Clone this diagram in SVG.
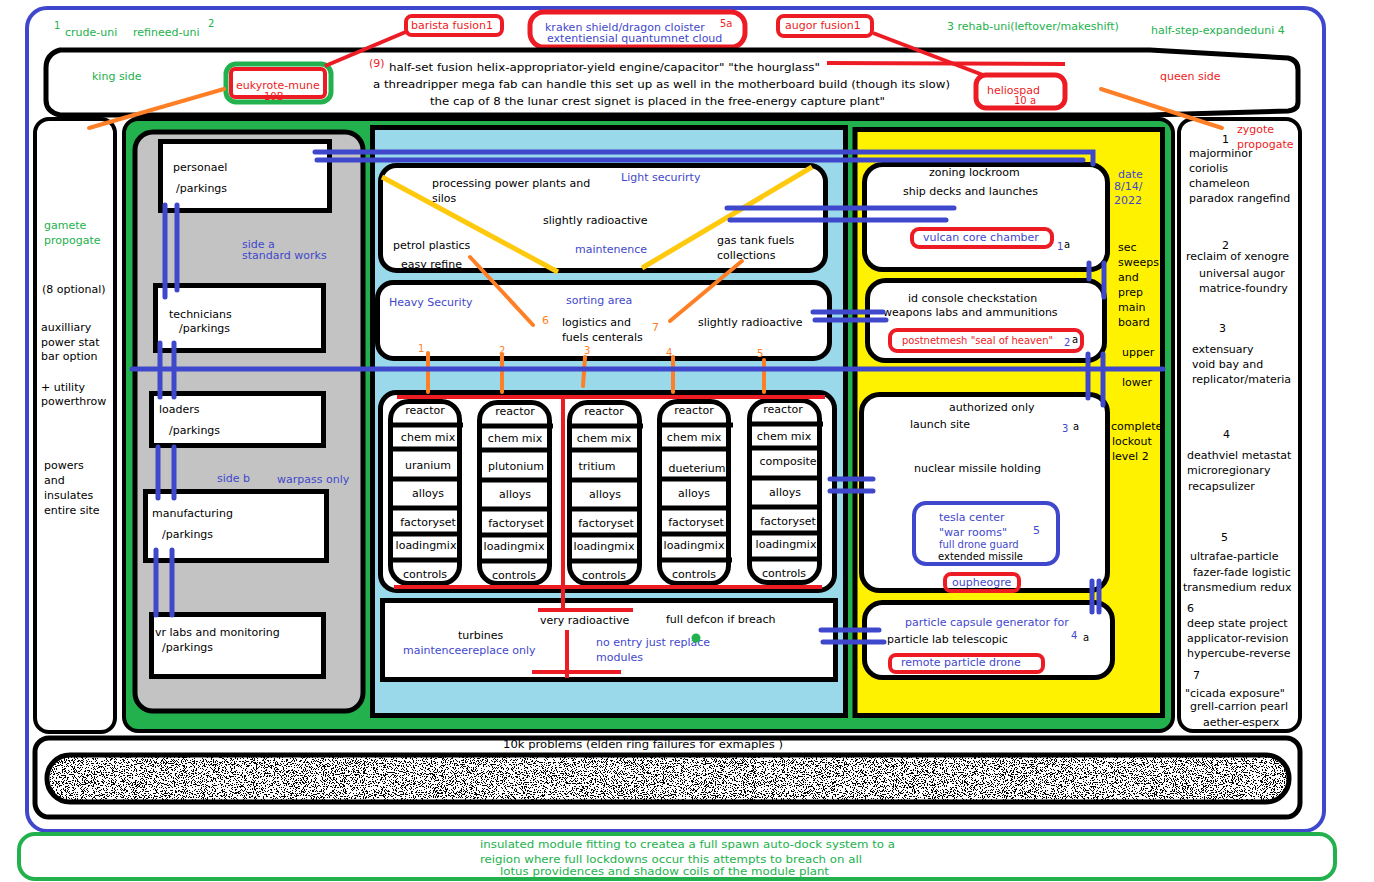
<svg xmlns="http://www.w3.org/2000/svg" width="1374" height="882" viewBox="0 0 1374 882">
<style>
text{font-family:"DejaVu Sans",Verdana,sans-serif;font-size:11px;fill:#000}
.b{fill:#3f48cc}.r{fill:#ed1c24}.g{fill:#22b14c}.o{fill:#ff7f27}
.s{font-size:10px}
.wbox{fill:#fff;stroke:#000;stroke-width:5}
.rbox{fill:none;stroke:#ed1c24;stroke-width:4}
.bl{stroke:#3f48cc;stroke-width:5;stroke-linecap:round;fill:none}
.rl{stroke:#ed1c24;stroke-width:4;fill:none}
.ol{stroke:#ff7f27;stroke-width:4;stroke-linecap:round;fill:none}
.yl{stroke:#ffc90e;stroke-width:5;fill:none}
.cap{fill:#fff;stroke:#000;stroke-width:5}
.dv{stroke:#000;stroke-width:5;fill:none}
.rc text{text-anchor:middle}
</style>
<defs>
<filter id="nz" x="0" y="0" width="100%" height="100%">
<feTurbulence type="fractalNoise" baseFrequency="0.9" numOctaves="2" seed="7" result="t"/>
<feColorMatrix in="t" type="matrix" values="0 0 0 0 0  0 0 0 0 0  0 0 0 0 0  -3 0 0 0 1.8" result="a"/>
<feComponentTransfer in="a" result="c"><feFuncA type="discrete" tableValues="0 1"/></feComponentTransfer>
<feComposite in="c" in2="SourceGraphic" operator="in" result="d"/>
<feMerge><feMergeNode in="SourceGraphic"/><feMergeNode in="d"/></feMerge>
</filter>
</defs>
<rect width="1374" height="882" fill="#fff"/>

<!-- outer frame -->
<g id="frame">
<rect x="27" y="8" width="1297" height="823" rx="20" fill="none" stroke="#3f48cc" stroke-width="4"/>
</g>

<!-- top labels -->
<g id="top-labels">
<text x="54" y="29" class="g s">1</text>
<text x="65" y="36" class="g">crude-uni</text>
<text x="133" y="36" class="g">refineed-uni</text>
<text x="208" y="27" class="g s">2</text>
<text x="947" y="30" class="g">3 rehab-uni(leftover/makeshift)</text>
<text x="1151" y="34" class="g">half-step-expandeduni 4</text>
</g>
<g id="barista">
<rect x="406" y="16" width="96" height="19" rx="6" class="rbox"/>
<text x="411" y="29" class="r">barista fusion1</text>
</g>
<g id="kraken">
<rect x="530" y="12" width="215" height="35" rx="14" fill="none" stroke="#ed1c24" stroke-width="5"/>
<text x="545" y="31" class="b">kraken shield/dragon cloister</text>
<text x="720" y="27" class="r s">5a</text>
<text x="547" y="42" class="b">extentiensial quantumnet cloud</text>
</g>
<g id="augor">
<rect x="778" y="16" width="94" height="20" rx="6" class="rbox"/>
<text x="785" y="29" class="r">augor fusion1</text>
</g>

<!-- header -->
<g id="header">
<path d="M60,50 L1150,50 L1288,58 Q1298,60 1298,70 L1298,102 Q1298,110 1288,111 L1150,115 L60,115 Q46,112 46,100 L46,68 Q46,54 60,50 Z" fill="#fff" stroke="#000" stroke-width="5"/>
<text x="92" y="80" class="g">king side</text>
<text x="1160" y="80" class="r">queen side</text>
<text x="369" y="67" class="r">(9)</text>
<text x="389" y="71" textLength="431" lengthAdjust="spacingAndGlyphs">half-set fusion helix-appropriator-yield engine/capacitor" "the hourglass"</text>
<text x="373" y="88" textLength="577" lengthAdjust="spacingAndGlyphs">a threadripper mega fab can handle this set up as well in the motherboard build (though its slow)</text>
<text x="430" y="105" textLength="455" lengthAdjust="spacingAndGlyphs">the cap of 8 the lunar crest signet is placed in the free-energy capture plant"</text>
</g>
<g id="eukyrote">
<rect x="226" y="64" width="105" height="38" rx="10" fill="none" stroke="#22b14c" stroke-width="5"/>
<rect x="231" y="69" width="94" height="28" rx="4" class="rbox"/>
<text x="236" y="89" class="r">eukyrote-mune</text>
<text x="264" y="100" class="r s">10B</text>
</g>
<g id="heliospad">
<rect x="976" y="75" width="89" height="33" rx="10" fill="none" stroke="#ed1c24" stroke-width="5"/>
<text x="987" y="94" class="r">heliospad</text>
<text x="1014" y="104" class="r s">10 a</text>
</g>

<!-- left column -->
<g id="left-column">
<rect x="35" y="119" width="80" height="613" rx="14" fill="#fff" stroke="#000" stroke-width="4"/>
<text x="44" y="229" class="g">gamete</text>
<text x="44" y="244" class="g">propogate</text>
<text x="42" y="293">(8 optional)</text>
<text x="41" y="331">auxilliary</text>
<text x="41" y="346">power stat</text>
<text x="41" y="360">bar option</text>
<text x="41" y="391">+ utility</text>
<text x="41" y="405">powerthrow</text>
<text x="44" y="469">powers</text>
<text x="44" y="484">and</text>
<text x="44" y="499">insulates</text>
<text x="44" y="514">entire site</text>
</g>

<!-- right column -->
<g id="right-column">
<rect x="1179" y="119" width="121" height="612" rx="14" fill="#fff" stroke="#000" stroke-width="4"/>
<text x="1237" y="133" class="r">zygote</text>
<text x="1237" y="148" class="r">propogate</text>
<text x="1222" y="143">1</text>
<text x="1189" y="157">majorminor</text>
<text x="1189" y="172">coriolis</text>
<text x="1189" y="187">chameleon</text>
<text x="1189" y="202">paradox rangefind</text>
<text x="1222" y="249">2</text>
<text x="1186" y="260">reclaim of xenogre</text>
<text x="1199" y="277">universal augor</text>
<text x="1199" y="292">matrice-foundry</text>
<text x="1219" y="332">3</text>
<text x="1192" y="353">extensuary</text>
<text x="1192" y="368">void bay and</text>
<text x="1192" y="383">replicator/materia</text>
<text x="1223" y="438">4</text>
<text x="1187" y="459">deathviel metastat</text>
<text x="1187" y="474">microregionary</text>
<text x="1188" y="490">recapsulizer</text>
<text x="1221" y="541">5</text>
<text x="1190" y="560">ultrafae-particle</text>
<text x="1193" y="576">fazer-fade logistic</text>
<text x="1183" y="591">transmedium redux</text>
<text x="1187" y="612">6</text>
<text x="1187" y="627">deep state project</text>
<text x="1187" y="642">applicator-revision</text>
<text x="1187" y="657">hypercube-reverse</text>
<text x="1193" y="679">7</text>
<text x="1185" y="697">"cicada exposure"</text>
<text x="1190" y="710">grell-carrion pearl</text>
<text x="1203" y="726">aether-esperx</text>
</g>

<!-- green site -->
<g id="site">
<rect x="124" y="119" width="1049" height="612" rx="14" fill="#22b14c" stroke="#000" stroke-width="4"/>
</g>

<!-- gray panel -->
<g id="gray-panel">
<rect x="135" y="132" width="228" height="579" rx="18" fill="#c3c3c3" stroke="#000" stroke-width="5"/>
<text x="242" y="248" class="b">side a</text>
<text x="242" y="259" class="b">standard works</text>
<text x="217" y="482" class="b">side b</text>
<text x="277" y="483" class="b">warpass only</text>
</g>
<g id="personael"><rect x="160.5" y="141.5" width="169" height="69" class="wbox"/><text x="173" y="171">personael</text><text x="176" y="192">/parkings</text></g>
<g id="technicians"><rect x="155.5" y="285.5" width="168" height="65" class="wbox"/><text x="169" y="318">technicians</text><text x="179" y="332">/parkings</text></g>
<g id="loaders"><rect x="151.5" y="393.5" width="172" height="52" class="wbox"/><text x="159" y="413">loaders</text><text x="169" y="434">/parkings</text></g>
<g id="manufacturing"><rect x="145.5" y="491.5" width="181" height="69" class="wbox"/><text x="152" y="517">manufacturing</text><text x="162" y="538">/parkings</text></g>
<g id="vr-labs"><rect x="151.5" y="614.5" width="172" height="62" class="wbox"/><text x="155" y="636">vr labs and monitoring</text><text x="162" y="651">/parkings</text></g>

<!-- blue panel -->
<g id="blue-panel">
<rect x="372.5" y="127.5" width="473" height="588" fill="#99d9ea" stroke="#000" stroke-width="5"/>
</g>
<g id="processing">
<rect x="380.5" y="165.5" width="445" height="105" rx="16" class="wbox"/>
<text x="432" y="187">processing power plants and</text>
<text x="432" y="202">silos</text>
<text x="621" y="181" class="b">Light securirty</text>
<text x="543" y="224">slightly radioactive</text>
<text x="393" y="249">petrol plastics</text>
<text x="401" y="268">easy refine</text>
<text x="575" y="253" class="b">maintenence</text>
<text x="717" y="244">gas tank fuels</text>
<text x="717" y="259">collections</text>
</g>
<g id="sorting">
<rect x="377.5" y="282.5" width="452" height="76" rx="16" class="wbox"/>
<text x="389" y="306" class="b">Heavy Security</text>
<text x="566" y="304" class="b">sorting area</text>
<text x="562" y="326">logistics and</text>
<text x="562" y="341">fuels centerals</text>
<text x="698" y="326">slightly radioactive</text>
<text x="542" y="324" class="o">6</text>
<text x="652" y="331" class="o">7</text>
<text x="418" y="352" class="o s">1</text>
<text x="499" y="354" class="o s">2</text>
<text x="584" y="354" class="o s">3</text>
<text x="666" y="356" class="o s">4</text>
<text x="757" y="357" class="o s">5</text>
</g>
<g id="reactors">
<rect x="380.5" y="392.5" width="454" height="198" rx="16" class="wbox"/>
</g>
<g id="reactor-1" class="rc">
<rect x="390.5" y="401.5" width="69" height="182" rx="18" class="cap"/>
<path d="M391,425H463M391,449H460M391,479H460M391,508H460M391,534H460M388,560H462" class="dv"/>
<text x="425" y="414">reactor</text><text x="428" y="441">chem mix</text><text x="428" y="469">uranium</text><text x="428" y="497">alloys</text><text x="428" y="526">factoryset</text><text x="426" y="549">loadingmix</text><text x="425" y="578">controls</text>
</g>
<g id="reactor-2" class="rc">
<rect x="479.5" y="402.5" width="70" height="181" rx="18" class="cap"/>
<path d="M480,426H553M480,450H550M480,480H550M480,509H550M480,535H550M477,561H552" class="dv"/>
<text x="515" y="415">reactor</text><text x="515" y="442">chem mix</text><text x="516" y="470">plutonium</text><text x="515" y="498">alloys</text><text x="516" y="527">factoryset</text><text x="514" y="550">loadingmix</text><text x="514" y="579">controls</text>
</g>
<g id="reactor-3" class="rc">
<rect x="569.5" y="402.5" width="70" height="181" rx="18" class="cap"/>
<path d="M570,426H643M570,450H640M570,480H640M570,509H640M570,535H640M567,561H642" class="dv"/>
<text x="604" y="415">reactor</text><text x="604" y="442">chem mix</text><text x="597" y="470">tritium</text><text x="605" y="498">alloys</text><text x="606" y="527">factoryset</text><text x="604" y="550">loadingmix</text><text x="604" y="579">controls</text>
</g>
<g id="reactor-4" class="rc">
<rect x="659.5" y="401.5" width="69" height="182" rx="18" class="cap"/>
<path d="M660,425H733M660,449H730M660,479H730M660,508H730M660,534H730M657,560H732" class="dv"/>
<text x="694" y="414">reactor</text><text x="694" y="441">chem mix</text><text x="697" y="472">dueterium</text><text x="694" y="497">alloys</text><text x="696" y="526">factoryset</text><text x="694" y="549">loadingmix</text><text x="694" y="578">controls</text>
</g>
<g id="reactor-5" class="rc">
<rect x="749.5" y="400.5" width="70" height="182" rx="18" class="cap"/>
<path d="M750,424H823M750,448H820M750,478H820M750,507H820M750,533H820M747,559H822" class="dv"/>
<text x="783" y="413">reactor</text><text x="784" y="440">chem mix</text><text x="788" y="465">composite</text><text x="785" y="496">alloys</text><text x="788" y="525">factoryset</text><text x="786" y="548">loadingmix</text><text x="784" y="577">controls</text>
</g>
<g id="turbines">
<rect x="382.5" y="600.5" width="453" height="79" class="wbox"/>
<text x="540" y="624">very radioactive</text>
<text x="666" y="623">full defcon if breach</text>
<text x="458" y="639">turbines</text>
<text x="403" y="654" class="b">maintenceereplace only</text>
<text x="596" y="646" class="b">no entry just replace</text>
<text x="596" y="661" class="b">modules</text>
<circle cx="696" cy="638" r="4.5" fill="#22b14c"/>
</g>

<!-- yellow panel -->
<g id="yellow-panel">
<rect x="855" y="129.5" width="307.5" height="586" fill="#fff200" stroke="#000" stroke-width="5"/>
<text x="1118" y="178" class="b">date</text>
<text x="1114" y="190" class="b">8/14/</text>
<text x="1114" y="204" class="b">2022</text>
<text x="1118" y="251">sec</text>
<text x="1118" y="266">sweeps</text>
<text x="1118" y="281">and</text>
<text x="1118" y="296">prep</text>
<text x="1118" y="311">main</text>
<text x="1118" y="326">board</text>
<text x="1122" y="356">upper</text>
<text x="1122" y="386">lower</text>
</g>
<g id="zoning">
<rect x="864.5" y="164.5" width="243" height="105" rx="18" class="wbox"/>
<text x="929" y="176">zoning lockroom</text>
<text x="903" y="195">ship decks and launches</text>
<rect x="912" y="229" width="140" height="18" rx="7" class="rbox"/>
<text x="923" y="241" class="b">vulcan core chamber</text>
<text x="1057" y="250" class="b s">1</text><text x="1064" y="248" class="s">a</text>
</g>
<g id="id-console">
<rect x="867.5" y="280.5" width="237" height="80" rx="18" class="wbox"/>
<text x="908" y="302">id console checkstation</text>
<text x="883" y="316">weapons labs and ammunitions</text>
<rect x="890" y="330" width="192" height="21" rx="7" class="rbox"/>
<text x="902" y="344" class="r s">postnetmesh "seal of heaven"</text>
<text x="1064" y="346" class="b s">2</text><text x="1072" y="343" class="s">a</text>
</g>
<g id="authorized">
<rect x="861.5" y="394.5" width="246" height="196" rx="18" class="wbox"/>
<text x="949" y="411">authorized only</text>
<text x="910" y="428">launch site</text>
<text x="1062" y="432" class="b s">3</text><text x="1073" y="430" class="s">a</text>
<text x="914" y="472">nuclear missile holding</text>
<rect x="914" y="503" width="144" height="61" rx="12" fill="none" stroke="#3f48cc" stroke-width="4"/>
<text x="939" y="521" class="b">tesla center</text>
<text x="939" y="536" class="b">"war rooms"</text>
<text x="1033" y="534" class="b">5</text>
<text x="939" y="548" class="b s">full drone guard</text>
<text x="938" y="560" class="s">extended missile</text>
<rect x="945" y="574" width="74" height="17" rx="6" class="rbox"/>
<text x="952" y="586" class="b">oupheogre</text>
</g>
<g id="lockout">
<text x="1111" y="430">complete</text>
<text x="1112" y="445">lockout</text>
<text x="1112" y="460">level 2</text>
</g>
<g id="particle">
<rect x="864.5" y="602.5" width="248" height="75" rx="18" class="wbox"/>
<text x="905" y="626" class="b">particle capsule generator for</text>
<text x="887" y="643">particle lab telescopic</text>
<text x="1071" y="639" class="b s">4</text><text x="1083" y="641" class="s">a</text>
<rect x="890" y="655" width="153" height="17" rx="6" class="rbox"/>
<text x="901" y="666" class="b">remote particle drone</text>
</g>

<!-- bottom -->
<g id="problems">
<rect x="35" y="738" width="1265" height="79" rx="14" fill="#fff" stroke="#000" stroke-width="5"/>
<text x="503" y="748" textLength="280" lengthAdjust="spacingAndGlyphs">10k problems (elden ring failures for exmaples )</text>
<rect x="47" y="755" width="1242" height="47" rx="23" fill="#fff" filter="url(#nz)"/>
<rect x="47" y="755" width="1242" height="47" rx="23" fill="none" stroke="#000" stroke-width="5"/>
</g>
<g id="insulated">
<rect x="19" y="834" width="1316" height="45" rx="16" fill="none" stroke="#22b14c" stroke-width="4"/>
<text x="480" y="848" class="g" textLength="415" lengthAdjust="spacingAndGlyphs">insulated module fitting to createa a full spawn auto-dock system to a</text>
<text x="480" y="863" class="g" textLength="382" lengthAdjust="spacingAndGlyphs">reigion where full lockdowns occur this attempts to breach on all</text>
<text x="500" y="875" class="g" textLength="329" lengthAdjust="spacingAndGlyphs">lotus providences and shadow coils of the module plant</text>
</g>

<!-- connectors -->
<g id="connectors">
<path d="M325,66 L408,31" class="rl" stroke-width="5"/>
<path d="M873,33 L983,75" class="rl" stroke-width="5"/>
<path d="M827,63 L1065,64" class="rl" stroke-width="5"/>
<path d="M89,128 L224,89" class="ol" stroke-width="5"/>
<path d="M1101,89 L1222,128" class="ol" stroke-width="5"/>
<path d="M382,177 L558,272" class="yl"/>
<path d="M812,167 L642,268" class="yl"/>
<path d="M470,257 L533,325" class="ol"/>
<path d="M742,261 L670,321" class="ol"/>
<path d="M428,353 V392 M502,354 V392 M585,357 L583,386 M673,357 V392 M764,360 V392" class="ol"/>
<path d="M397,397 H825 M394,587 H822 M563,397 V612 M538,610 H633 M567,630 V678 M532,672 H621" class="rl"/>
<path d="M165,205 V297 M177,205 V290 M160,343 V397 M174,343 V397 M158,447 V498 M174,447 V498 M156,550 V615 M172,550 V615" class="bl"/>
<path d="M132,369 H1163" class="bl" stroke-width="4"/>
<path d="M315,152 H1093 V164 M317,160 H1083" class="bl"/>
<path d="M727,208 H954 M730,220 H946" class="bl"/>
<path d="M813,312 H883 M815,320 H886" class="bl"/>
<path d="M1089,263 V279 M1104,263 V297 M1088,354 V398 M1103,354 V405" class="bl"/>
<path d="M830,479 H873 M830,491 H873" class="bl"/>
<path d="M821,630 H879 M823,642 H884" class="bl"/>
<path d="M1092,581 V612 M1099,581 V612" class="bl"/>
</g>
</svg>
